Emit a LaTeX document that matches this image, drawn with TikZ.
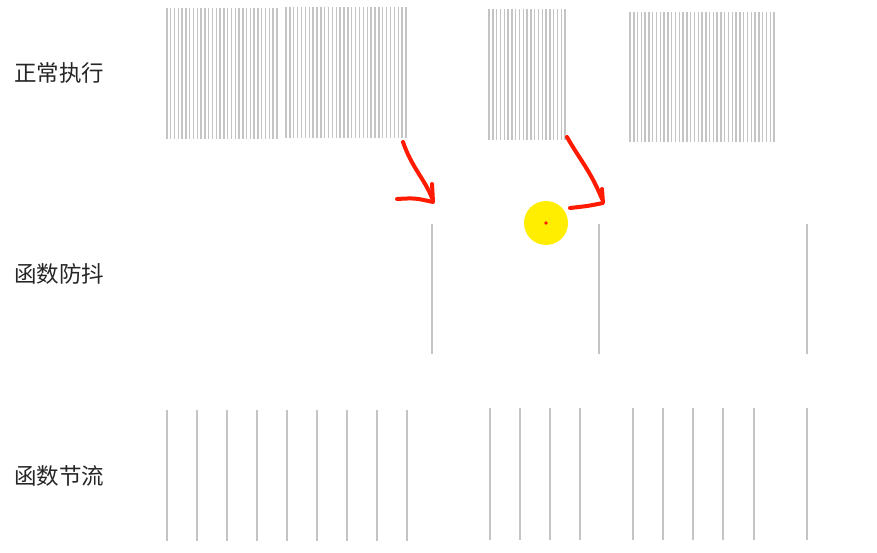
\documentclass[tikz,border=0pt]{standalone}
\usepackage{fontspec}
\setmainfont{Noto Sans CJK SC}
\usepackage{tikz}
\usetikzlibrary{positioning}

\definecolor{barcol}{HTML}{C4C4C4}
\definecolor{penred}{HTML}{FF1A00}
\definecolor{spot}{HTML}{FFEE00}

\tikzset{
  bar/.style={draw=barcol,line width=1.4pt},
  tick/.style={draw=barcol,line width=1.6pt},
  pen/.style={draw=penred,line width=4pt,line cap=round,line join=round},
  rowlabel/.style={anchor=west,inner sep=0pt,font=\fontsize{22.5}{26}\selectfont,text=black!85}
}

\begin{document}
\begin{tikzpicture}[x=1pt,y=-1pt]
  \useasboundingbox[fill=white] (0,0) rectangle (877,553);

  % row labels
  \node[rowlabel] (normal) at (14,73) {正常执行};
  \node[rowlabel] (debounce) at (14,274) {函数防抖};
  \node[rowlabel] (throttle) at (14,476) {函数节流};

  % normal execution
  \foreach \i in {0,...,29}
    \draw[bar] ({167+3.79*\i},8) -- ++(0,131);
  \foreach \i in {0,...,31}
    \draw[bar] ({286+3.87*\i},7) -- ++(0,131);
  \foreach \i in {0,...,20}
    \draw[bar] ({489+3.8*\i},9) -- ++(0,131);
  \foreach \i in {0,...,38}
    \draw[bar] ({630+3.79*\i},12) -- ++(0,130);

  % debounce
  \foreach \x in {432,599,807}
    \draw[bar] (\x,224) -- ++(0,130);

  % throttle
  \foreach \x in {167,197,...,407}
    \draw[tick] (\x,410) -- ++(0,131);
  \foreach \x in {490,520,550,580,633,663,693,723,754,807}
    \draw[tick] (\x,408) -- ++(0,132);

  % hand drawn arrows
  \coordinate (a1) at (403,142);
  \coordinate (b1) at (432,198);
  \coordinate (a2) at (567,137);
  \coordinate (b2) at (602,199);
  \draw[pen] (a1) .. controls (412,168) and (424,178) .. (b1);
  \draw[pen] (397,199) .. controls (415,198) .. (433,202) -- (432,184);
  \draw[pen] (a2) .. controls (580,160) and (590,170) .. (b2);
  \draw[pen] (570,208) .. controls (588,206) .. (603,203) -- (602,189);

  % pointer
  \fill[spot] (546,223) circle (22);
  \fill[penred] (546,223) circle (1.8);
\end{tikzpicture}
\end{document}
